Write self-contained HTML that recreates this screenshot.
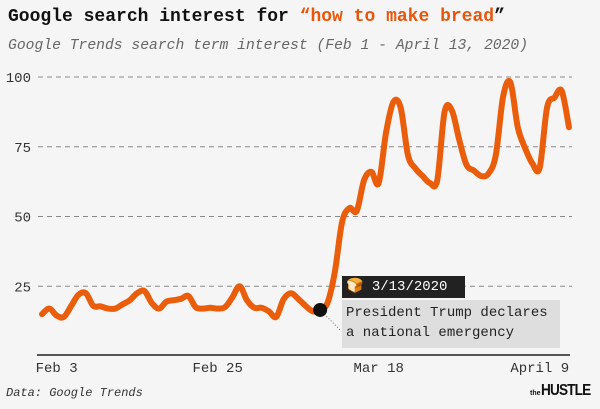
<!DOCTYPE html>
<html><head><meta charset="utf-8"><style>
body{margin:0;background:#f5f5f5;}
#wrap{position:relative;width:600px;height:409px;background:#f5f5f5;font-family:"Liberation Mono",monospace;overflow:hidden}
.t{position:absolute;white-space:nowrap}
</style></head><body>
<div id="wrap">
<div class="t" style="left:8px;top:7px;font-size:18px;font-weight:bold;color:#111">Google search interest for <span style="color:#e8560c">“how to make bread</span>”</div>
<div class="t" style="left:8px;top:38px;font-size:14.7px;font-style:italic;color:#666">Google Trends search term interest (Feb 1 - April 13, 2020)</div>
<svg id="chart" width="600" height="409" style="position:absolute;left:0;top:0"></svg>
<div class="t" style="left:342px;top:276px;width:123px;height:22px;background:#222;color:#fff;font-size:14px;line-height:22px;padding-left:4px;box-sizing:border-box">🍞 3/13/2020</div>
<div class="t" style="left:342px;top:300px;width:218px;height:48px;background:#dedede;color:#222;font-size:14px;line-height:20px;padding:3px 0 0 4px;box-sizing:border-box">President Trump declares<br>a national emergency</div>
<div class="t" style="left:6px;top:386px;font-size:12px;font-style:italic;color:#333">Data: Google Trends</div>
<div class="t" style="left:530px;top:382px;font-family:'Liberation Sans',sans-serif;font-weight:bold;color:#111"><span style="font-size:7px">the</span><span style="font-size:16px;letter-spacing:-1px;display:inline-block;transform:scaleX(0.85);transform-origin:left">HUSTLE</span></div>
</div>
<script>
const values=[15,17,14.5,14,18,22,22.5,18,17.8,17,17,18.5,20,22.5,23.3,19,17,19.5,20,20.5,21.5,17.5,17,17.3,17,17.5,21,25,20,17.3,17.3,16,14,20.3,22.5,20.5,18,16,16.5,19,30,48,53,52,63,66,62,80,91,89,72,67.3,64.5,62,63,87.5,88,77.5,68.5,66.5,64.5,65.4,72,93,98,82,74.5,69,67.5,89,92.6,95,82];
const yTicks=[25,50,75,100];
const xTickLabels=["Feb 3","Feb 25","Mar 18","April 9"];
const xTickIndex=[2,24,46,68];
const eventIndex=38;
const svg=document.getElementById('chart');
const NS='http://www.w3.org/2000/svg';
const x0=42,x1=569,yTop=77,yBot=356;
function xs(i){return x0+(x1-x0)*i/(values.length-1);}
function ys(v){return yBot-(yBot-yTop)*v/100;}
function mk(t,a){const e=document.createElementNS(NS,t);for(const k in a)e.setAttribute(k,a[k]);svg.appendChild(e);return e;}
yTicks.forEach(v=>{
  const g=mk('line',{x1:38,x2:572,y1:ys(v),y2:ys(v),stroke:'#8a8a8a','stroke-width':1,'stroke-dasharray':'5,4'});
  
  
  const t=mk('text',{x:31,y:ys(v)+5,'text-anchor':'end','font-size':14,fill:'#333','font-family':'Liberation Mono,monospace'});
  t.textContent=v;
  
  
});
const ax=mk('line',{x1:37,x2:570,y1:355,y2:355,stroke:'#222','stroke-width':1.5});


xTickLabels.forEach((l,k)=>{
  const t=mk('text',{x:xs(xTickIndex[k]),y:372,'text-anchor':'middle','font-size':14,fill:'#333','font-family':'Liberation Mono,monospace'});
  t.textContent=l;
  
  
});
const pts=values.map((v,i)=>[xs(i),ys(v)]);
let d='M'+pts[0][0]+','+pts[0][1];
for(let i=0;i<pts.length-1;i++){
  const p0=pts[Math.max(0,i-1)],p1=pts[i],p2=pts[i+1],p3=pts[Math.min(pts.length-1,i+2)];
  const c1=[p1[0]+(p2[0]-p0[0])/6,p1[1]+(p2[1]-p0[1])/6],c2=[p2[0]-(p3[0]-p1[0])/6,p2[1]-(p3[1]-p1[1])/6];
  d+=' C'+c1+' '+c2+' '+p2;
}
const line=mk('path',{d:d,fill:'none',stroke:'#ea5d0b','stroke-width':6,'stroke-linecap':'round','stroke-linejoin':'round'});


const ex=xs(eventIndex),ey=ys(values[eventIndex]);
const ld=mk('line',{x1:ex,y1:ey,x2:ex+20,y2:ey+20,stroke:'#666','stroke-width':1,'stroke-dasharray':'1,2'});


const dot=mk('circle',{cx:ex,cy:ey,r:7,fill:'#111'});


</script>
</body></html>
